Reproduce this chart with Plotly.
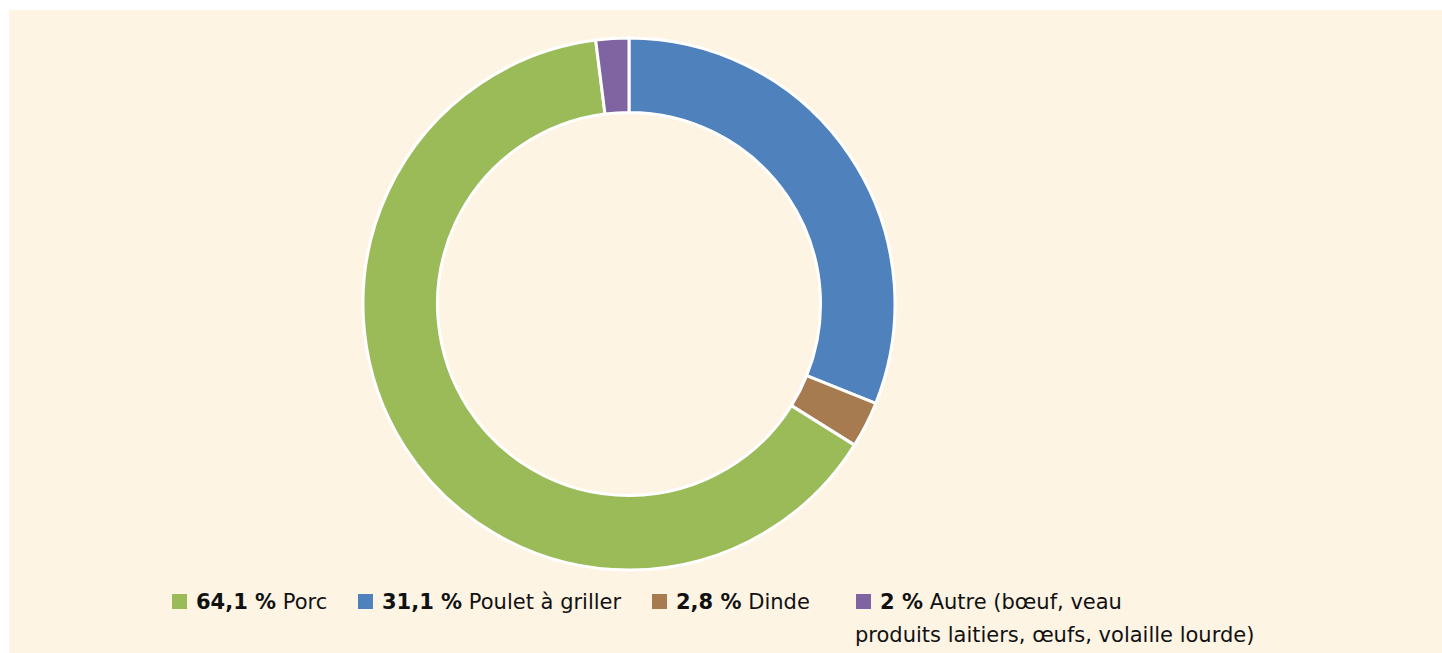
import plotly.graph_objects as go

# Data (legend order)
categories = ["Porc", "Poulet à griller", "Dinde",
              "Autre (bœuf, veau<br>produits laitiers, œufs, volaille lourde)"]
shares = [64.1, 31.1, 2.8, 2.0]
share_labels = ["64,1 %", "31,1 %", "2,8 %", "2 %"]
colors = ["#9BBB59", "#4F81BD", "#A67B50", "#8064A2"]

# Order of slices clockwise from 12 o'clock, as in the reference
ring_order = [1, 2, 0, 3]

W, H = 1442, 653
BG = "#FDF4E4"
FONT = "DejaVu Sans"
FS = 21


def px(x):
    return x / W


def py(y):
    return 1 - y / H


fig = go.Figure()
fig.add_trace(go.Pie(
    labels=[categories[i] for i in ring_order],
    values=[shares[i] for i in ring_order],
    marker=dict(colors=[colors[i] for i in ring_order],
                line=dict(color="white", width=3)),
    hole=0.72,
    sort=False,
    direction="clockwise",
    rotation=0,
    textinfo="none",
    hoverinfo="label+percent",
    showlegend=False,
    domain=dict(x=[px(363), px(895)], y=[py(570), py(38)]),
))

shapes = [dict(type="rect", xref="paper", yref="paper",
               x0=px(9), x1=1, y0=0, y1=py(10),
               fillcolor=BG, line=dict(width=0), layer="below")]
annotations = []
legend_left = [172, 358, 652, 856]
for i, cat in enumerate(categories):
    x0 = legend_left[i]
    shapes.append(dict(type="rect", xref="paper", yref="paper",
                       x0=px(x0), x1=px(x0 + 15),
                       y0=py(609), y1=py(594),
                       fillcolor=colors[i], line=dict(width=0)))
    lines = cat.split("<br>")
    annotations.append(dict(
        xref="paper", yref="paper", x=px(x0 + 22), y=py(602),
        xanchor="left", yanchor="middle", showarrow=False,
        text=f"<b>{share_labels[i]}</b> {lines[0]}",
        font=dict(family=FONT, size=FS, color="#111111")))
    for k, extra in enumerate(lines[1:], start=1):
        annotations.append(dict(
            xref="paper", yref="paper", x=px(x0 - 3), y=py(602 + 33 * k),
            xanchor="left", yanchor="middle", showarrow=False,
            text=extra, font=dict(family=FONT, size=FS, color="#111111")))

fig.update_layout(
    width=W, height=H,
    margin=dict(l=0, r=0, t=0, b=0),
    paper_bgcolor="white",
    plot_bgcolor="white",
    shapes=shapes,
    annotations=annotations,
    showlegend=False,
)

fig.write_html(
    "out.html",
    config={"displayModeBar": False},
    default_width=f"{W}px", default_height=f"{H}px",
    post_script=(
        "document.body.style.margin='0';"
        "document.body.style.overflow='hidden';"
        f"document.body.style.background='{BG}';"
        f"document.documentElement.style.background='{BG}';"
    ),
)
